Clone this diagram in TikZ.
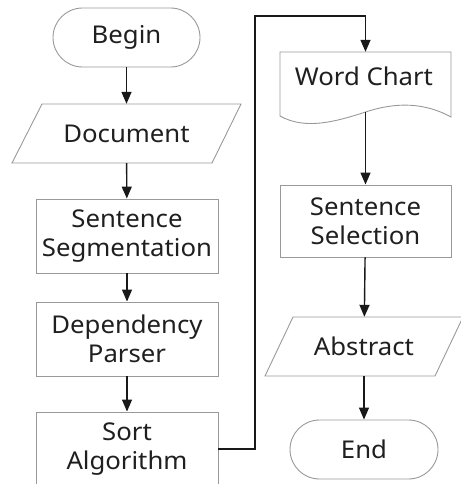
\documentclass[tikz,border=0pt]{standalone}
\usepackage{fontspec}
\setmainfont{Noto Sans}[FakeStretch=1.05]
\usetikzlibrary{arrows.meta}
\begin{document}
\begin{tikzpicture}[x=1pt,y=-1pt,
  lbl/.style={font=\fontsize{24.5}{29}\selectfont, align=center, text=black!88},
  box/.style={lbl, draw=black!40, line width=0.9pt, minimum width=182pt, minimum height=74pt, inner sep=0pt},
  ghost/.style={lbl, inner sep=0pt},
  outline/.style={draw=black!40, line width=0.9pt},
  arr/.style={line width=1.4pt, black!90, -{Triangle[width=10pt,length=12pt]}}]
\useasboundingbox (0,0) rectangle (460,484);
% left column
\node[box, rounded corners=29.5pt, minimum width=147pt, minimum height=59pt] (begin) at (126.5,37.5) {Begin};
\node[ghost, minimum width=200pt, minimum height=59pt] (doc) at (126.5,133.5) {Document};
\draw[outline] (42,104) -- (241,104) -- (212,163) -- (12,163) -- cycle;
\node[box] (seg) at (127,236) {Sentence\\Segmentation};
\node[box] (dep) at (127,339) {Dependency\\Parser};
\node[box] (sort) at (127,449) {Sort\\Algorithm};
% right column
\node[ghost, minimum width=171pt, minimum height=65pt] (word) at (365.5,84.5) {};
\node[lbl, anchor=base] (wordtxt) at (364,86) {Word Chart};
\draw[outline] (280,52) -- (451,52) -- (451,117)
  .. controls (420,100) and (390,104) .. (365.5,112)
  .. controls (335,122) and (305,130) .. (280,116) -- cycle;
\node[box, minimum width=171pt, minimum height=72pt] (sel) at (365.5,221) {Sentence\\Selection};
\node[ghost, minimum width=170pt, minimum height=59pt] (abs) at (364,346.5) {Abstract};
\draw[outline] (293,317) -- (463,317) -- (435,376) -- (265,376) -- cycle;
\node[box, rounded corners=29.5pt, minimum width=148pt, minimum height=59pt] (end) at (364,449.5) {End};
% connectors
\draw[arr] (begin) -- (doc);
\draw[arr] (doc) -- (seg);
\draw[arr] (seg) -- (dep);
\draw[arr] (dep) -- (sort);
\coordinate (c1) at (255,449);
\coordinate (c2) at (255,16);
\coordinate (c3) at (365.5,16);
\draw[arr] (sort.east) -- (c1) -- (c2) -- (c3) -- (word.north);
\draw[arr] (365.5,112) -- (sel.north);
\draw[arr] (sel) -- (abs);
\draw[arr] (abs) -- (end);
\end{tikzpicture}
\end{document}
